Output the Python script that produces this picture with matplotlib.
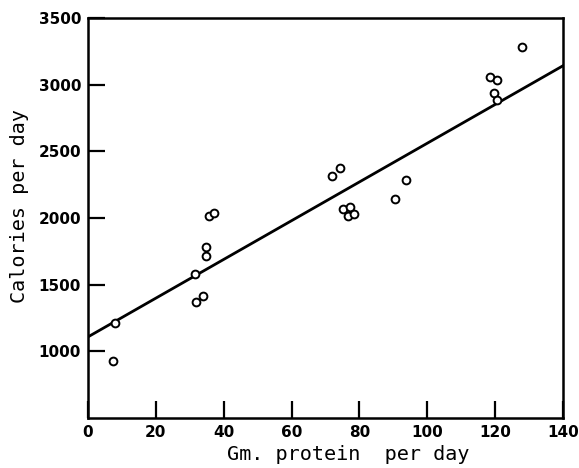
import matplotlib
matplotlib.use("Agg")
import matplotlib.pyplot as plt

# values
protein = [7.5, 8.0, 31.4, 31.8, 34.0, 34.9, 34.9, 35.8, 37.0,
           71.8, 74.3, 75.3, 77.1, 76.5, 78.3, 90.5, 93.6,
           118.6, 120.4, 119.8, 120.6, 127.9]
calories = [930, 1215, 1580, 1368, 1415, 1780, 1718, 2015, 2035,
            2315, 2373, 2065, 2083, 2017, 2030, 2140, 2283,
            3060, 3035, 2940, 2885, 3280]

# fitted line endpoints
line_x = [0, 140]
line_y = [1108, 3142]

x_ticks = [0, 20, 40, 60, 80, 100, 120, 140]
y_ticks = [1000, 1500, 2000, 2500, 3000, 3500]

fig = plt.figure(figsize=(5.79, 4.68), dpi=100)
ax = fig.add_axes([0.152, 0.107, 0.8204, 0.8545])

ax.plot(line_x, line_y, color="black", linewidth=2.0, zorder=1)
ax.plot(protein, calories, linestyle="none", marker="o", markersize=5.6,
        markerfacecolor="white", markeredgecolor="black", markeredgewidth=1.4, zorder=2)

ax.set_xlim(0, 140)
ax.set_ylim(500, 3500)
ax.set_xticks(x_ticks)
ax.set_yticks(y_ticks)
ax.tick_params(direction="in", length=12, width=1.6, labelsize=11, pad=5)
for lbl in ax.get_xticklabels() + ax.get_yticklabels():
    lbl.set_fontweight("bold")
for s in ax.spines.values():
    s.set_linewidth(1.8)

ax.set_xlabel("Gm. protein  per day", family="DejaVu Sans Mono", fontsize=14.5)
ax.set_ylabel("Calories per day", family="DejaVu Sans Mono", fontsize=14.5)
ax.xaxis.set_label_coords(0.547, -0.0925)
ax.xaxis.label.set_va("center")
ax.yaxis.set_label_coords(-0.145, 0.53)
ax.yaxis.label.set_va("center")

fig.savefig("out.png", dpi=100)
